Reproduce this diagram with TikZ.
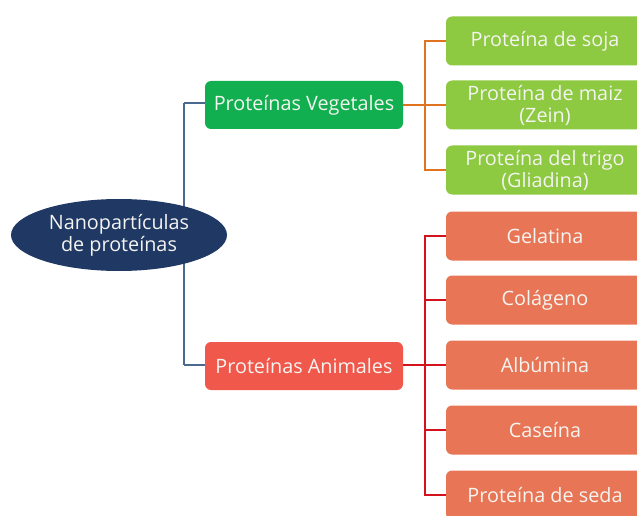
\documentclass[tikz,border=0pt]{standalone}
\usepackage{fontspec}
\setmainfont{Open Sans}
\usetikzlibrary{shapes.geometric}
\definecolor{navy}{HTML}{1F3864}
\definecolor{vgreen}{HTML}{11AF4F}
\definecolor{lgreen}{HTML}{8DC941}
\definecolor{ared}{HTML}{F0584C}
\definecolor{lred}{HTML}{E87656}
\definecolor{cblue}{HTML}{4A6890}
\definecolor{corange}{HTML}{E0741E}
\definecolor{cred}{HTML}{D4121C}
\definecolor{txt}{HTML}{F4F4F0}
\begin{document}
\begin{tikzpicture}[x=1pt,y=-1pt,
  every node/.style={font=\fontsize{19.8}{22}\selectfont, text=txt, align=center, inner sep=0pt},
  root/.style={ellipse, fill=navy, minimum width=216, minimum height=72},
  midbox/.style={rounded corners=6, minimum width=198, minimum height=48},
  leafbox/.style={rounded corners=6, minimum width=198, minimum height=49},
  conn/.style={line width=1.8pt}
]
\useasboundingbox (0,0) rectangle (637,516);
\clip (0,0) rectangle (637,516);
% connectors
\coordinate (b1) at (184,103);
\coordinate (b2) at (184,365);
\draw[conn, cblue] (b1) -- (b2);
\node[root] (root) at (119,235) {Nanopartículas\\de proteínas};
\node[midbox, fill=vgreen] (veg) at (304,105) {Proteínas Vegetales};
\node[midbox, fill=ared] (ani) at (304,366) {Proteínas Animales};
\draw[conn, cblue] (b1) -- (veg.west |- b1);
\draw[conn, cblue] (b2) -- (ani.west |- b2);
% vegetal leaves
\node[leafbox, fill=lgreen] (v1) at (545,41) {Proteína de soja};
\node[leafbox, fill=lgreen] (v2) at (545,105) {Proteína de maiz\\(Zein)};
\node[leafbox, fill=lgreen] (v3) at (545,170) {Proteína del trigo\\(Gliadina)};
\coordinate (oj) at (425,105);
\draw[conn, corange] (veg.east |- oj) -- (oj);
\draw[conn, corange] (v1.west) -| (oj) |- (v3.west);
\draw[conn, corange] (oj) -- (v2.west);
% animal leaves
\node[leafbox, fill=lred] (a1) at (545,236) {Gelatina};
\node[leafbox, fill=lred] (a2) at (545,300) {Colágeno};
\node[leafbox, fill=lred] (a3) at (545,365) {Albúmina};
\node[leafbox, fill=lred] (a4) at (545,430) {Caseína};
\node[leafbox, fill=lred] (a5) at (545,495) {Proteína de seda};
\coordinate (rj) at (425,365);
\draw[conn, cred] (ani.east |- rj) -- (a3.west);
\draw[conn, cred] (a1.west) -| (rj) |- (a5.west);
\draw[conn, cred] (a2.west) -- (a2.west -| rj);
\draw[conn, cred] (a4.west) -- (a4.west -| rj);
\end{tikzpicture}
\end{document}
